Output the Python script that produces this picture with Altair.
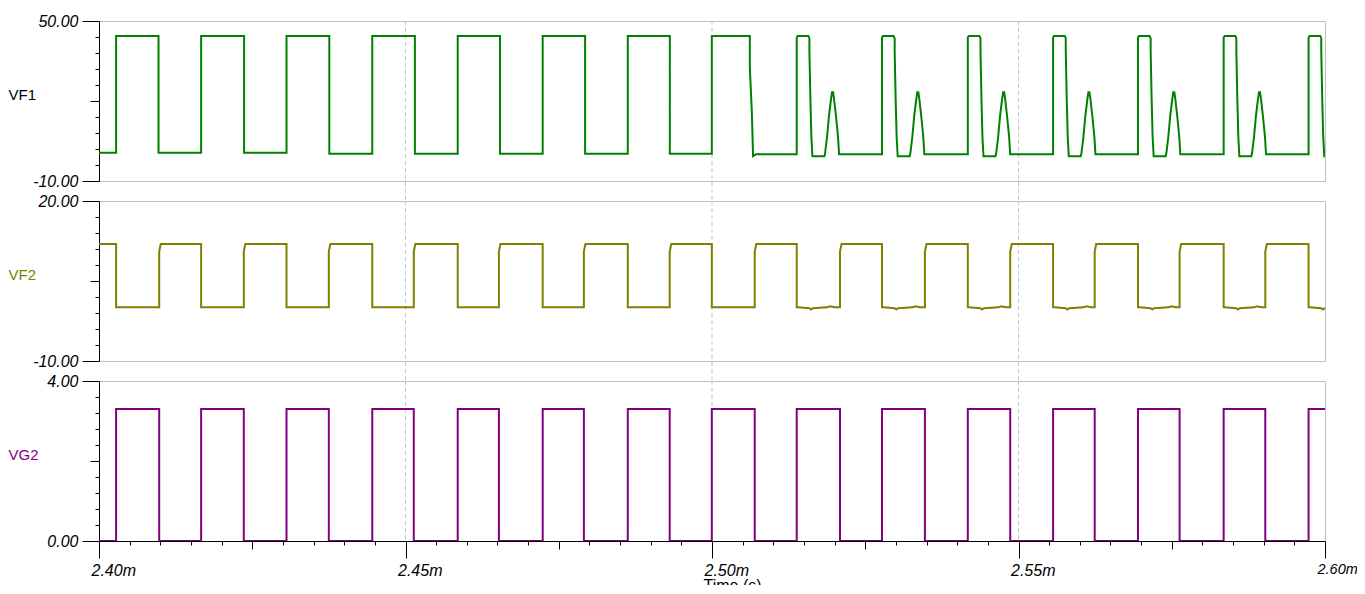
import altair as alt
import pandas as pd

# ---------------- time axis (microseconds; shown as ms with "m") ----------------
T_START, T_END = 2400.0, 2600.0
x_tick_values = list(range(2400, 2601, 5))
x_grid_values = [2450, 2500, 2550]

# ---------------- VG2 : gate drive, edges (µs) ----------------
vg2_rise = [2402.79, 2416.66, 2430.59, 2444.58, 2458.52, 2472.38, 2486.26, 2499.97,
            2513.82, 2527.73, 2541.73, 2555.64, 2569.49, 2583.47, 2597.32]
vg2_fall = [2409.82, 2423.62, 2437.49, 2451.35, 2465.24, 2479.10, 2493.10,
            2506.97, 2520.88, 2534.73, 2548.65, 2562.43, 2576.28, 2590.26]
vg2_high = 3.3
vg2_low = 0.0

# ---------------- VF1 ----------------
vf1_rise = [2402.79, 2416.66, 2430.59, 2444.58, 2458.52, 2472.38, 2486.26, 2499.97]
vf1_fall = [2409.71, 2423.67, 2437.57, 2451.53, 2465.42, 2479.30, 2493.12]
vf1_low_before = [0.55, 0.55, 0.55, 0.2, 0.2, 0.2, 0.2, 0.2]
vf1_high = 44.4
# last full-width pulse falls in small steps
vf1_fall8_t = [2506.17, 2506.49, 2506.70, 2507.16]
vf1_fall8_v = [32.6, 16.5, -0.7, 0.06]
# later pulses: short pulse + ringing bump (shape read relative to each rise, µs)
vf1_late_rise = [2513.82, 2527.73, 2541.73, 2555.64, 2569.49, 2583.47, 2597.32]
vf1_late_dt = [0.0, 0.16, 1.90, 2.07, 2.07, 2.23, 2.39, 2.56, 4.51, 4.62, 4.95,
               5.27, 5.60, 5.76, 5.93, 6.09, 6.42, 6.74, 6.91]
vf1_late_v = [43.8, 44.4, 44.4, 43.5, 38.6, 20.7, 6.5, -0.7, -0.7, 0.3, 6.5,
              14.6, 20.8, 23.3, 23.3, 20.8, 14.0, 6.5, 0.06]
vf1_late_low = 0.06

# ---------------- VF2 ----------------
vf2_fall = vg2_rise
vf2_rise = vg2_fall
vf2_high = 11.94
vf2_kink = 10.5
vf2_low = 0.06
vf2_late_from = 2513.0
vf2_dip_dt = [0.2, 2.06, 2.33, 2.6, 4.99, 5.4, 6.19]
vf2_dip_v = [0.06, -0.12, -0.35, -0.12, 0.06, 0.25, 0.06]


def frame(pts):
    return pd.DataFrame({"t": [p[0] for p in pts], "v": [p[1] for p in pts],
                         "i": list(range(len(pts)))})


# VG2 points
pts = [(T_START, vg2_low)]
for k, r in enumerate(vg2_rise):
    pts += [(r, vg2_low), (r, vg2_high)]
    if k < len(vg2_fall):
        f = vg2_fall[k]
        pts += [(f, vg2_high), (f, vg2_low)]
pts.append((T_END, vg2_high))
df_vg2 = frame(pts)

# VF1 points
pts = [(T_START, vf1_low_before[0])]
for k, r in enumerate(vf1_rise):
    pts += [(r, vf1_low_before[k]), (r, vf1_high)]
    if k < len(vf1_fall):
        f = vf1_fall[k]
        pts += [(f, vf1_high), (f, vf1_low_before[k + 1])]
    else:
        pts.append((vf1_fall8_t[0], vf1_high))
        pts += list(zip(vf1_fall8_t, vf1_fall8_v))
for r in vf1_late_rise:
    pts.append((r, vf1_late_low))
    pts += [(r + d, v) for d, v in zip(vf1_late_dt, vf1_late_v)]
df_vf1 = frame(pts)

# VF2 points
pts = [(T_START, vf2_high)]
for k, f in enumerate(vf2_fall):
    pts += [(f, vf2_high), (f, vf2_low)]
    if f > vf2_late_from:
        pts += [(f + d, v) for d, v in zip(vf2_dip_dt, vf2_dip_v)]
    if k < len(vf2_rise):
        r = vf2_rise[k]
        pts += [(r, vf2_low), (r, vf2_kink), (r + 0.25, vf2_high)]
pts.append((T_END, vf2_low))
df_vf2 = frame(pts)

FONT = "Liberation Sans"
W = 1226
H = 160
GAP = 20
LEFT = 91        # plot area starts 91 px into the drawing
TOP = 13         # plot area starts 13 px below the drawing top
RIGHT = 32       # keeps the drawing 1349 px wide (no shrinking in the page)
TOTAL_H = 577    # drawing height that still fits the 594 px window
BOTTOM = TOTAL_H - TOP


def fmt_expr():
    return ("datum.value < 0 ? '-' + format(-datum.value, '.2f') : format(datum.value, '.2f')")


def y_axis(label, color, vmin, vmid, vmax, values):
    ends = f"datum.value === {vmin} || datum.value === {vmax}"
    return alt.Axis(
        values=values, grid=False, domainColor="black", tickColor="black",
        domainWidth=1, tickWidth=1,
        tickSize={"condition": [{"test": ends, "value": 17},
                                {"test": f"datum.value === {vmid}", "value": 9}],
                  "value": 4},
        labelExpr=f"{ends} ? ({fmt_expr()}) : ''",
        labelPadding=4, labelFont=FONT, labelFontStyle="italic", labelFontSize=16,
        labelColor="black", labelFlush=False, labelOverlap=False, labelBound=False,
        title=label, titleAngle=0, titleAlign="left", titleBaseline="middle",
        titleX=-LEFT, titleY=73, titleFont=FONT, titleFontSize=15,
        titleFontWeight="normal", titleColor=color,
    )


x_axis_bottom = alt.Axis(
    values=x_tick_values, grid=False, domainColor="black", tickColor="black",
    domainWidth=1, tickWidth=1,
    tickSize={"condition": [{"test": "datum.value % 50 === 0", "value": 17},
                            {"test": "datum.value % 25 === 0", "value": 8}],
              "value": 4},
    labelExpr="datum.value % 50 === 0 ? format(datum.value / 1000, '.2f') + 'm' : ''",
    labelAlign="left", labelOffset=-8, labelFlush=False, labelOverlap=False,
    labelBound=False, labelPadding=4, labelFont=FONT,
    labelFontSize={"condition": {"test": "datum.value === 2600", "value": 14.5}, "value": 16},
    labelFontStyle="italic", labelColor="black",
    title="Time (s)", titleFont=FONT, titleFontSize=16, titleFontWeight="normal",
    titleColor="black", titleAlign="left", titleBaseline="top", titleX=604, titleY=36,
)


def panel(df, color, title_color, label, vmin, vmid, vmax, yvalues, show_x):
    xscale = alt.Scale(domain=[T_START, T_END], nice=False, zero=False)
    xenc = alt.X("t:Q", scale=xscale, axis=x_axis_bottom if show_x else None)
    grid = alt.Chart(pd.DataFrame({"t": x_grid_values})).mark_rule(
        color="#c4c4c4", strokeDash=[4, 3], strokeWidth=1
    ).encode(x=xenc, y=alt.value(0), y2=alt.value(H if show_x else H + GAP))
    line = alt.Chart(df).mark_line(color=color, strokeWidth=2, clip=True).encode(
        x=xenc,
        y=alt.Y("v:Q", scale=alt.Scale(domain=[vmin, vmax], nice=False, zero=False),
                axis=y_axis(label, title_color, vmin, vmid, vmax, yvalues)),
        order=alt.Order("i:Q"),
    )
    return alt.layer(grid, line).properties(width=W, height=H)


vf1_ticks = [-10, -4, 2, 8, 14, 20, 26, 32, 38, 44, 50]
vf2_ticks = [-10, -7, -4, -1, 2, 5, 8, 11, 14, 17, 20]
vg2_ticks = [0, 0.4, 0.8, 1.2, 1.6, 2, 2.4, 2.8, 3.2, 3.6, 4]

p1 = panel(df_vf1, "#008000", "black", "VF1", -10, 20, 50, vf1_ticks, False)
p2 = panel(df_vf2, "#808000", "#808000", "VF2", -10, 5, 20, vf2_ticks, False)
p3 = panel(df_vg2, "#800080", "#800080", "VG2", 0, 2, 4, vg2_ticks, True)

chart = alt.vconcat(p1, p2, p3, spacing=GAP, bounds="flush").properties(
    autosize=alt.AutoSizeParams(type="none"),
    padding={"left": LEFT, "top": TOP, "right": RIGHT, "bottom": BOTTOM},
    background="white",
).configure_view(stroke="#c0c0c0", strokeWidth=1)

chart.save("out.html", embed_options={"renderer": "svg", "actions": False})
